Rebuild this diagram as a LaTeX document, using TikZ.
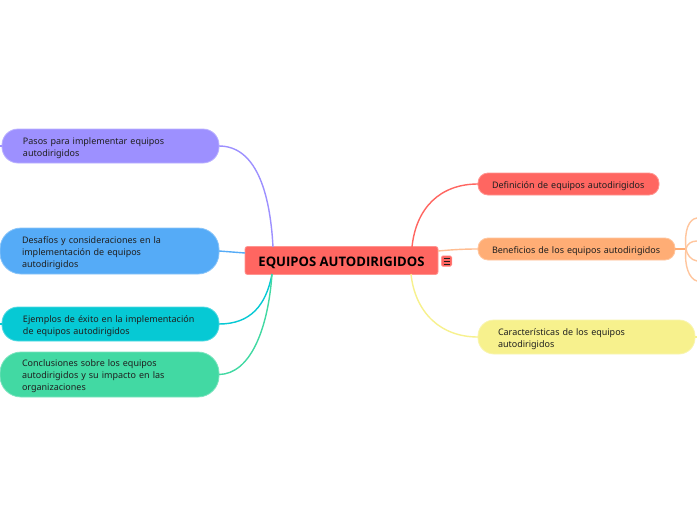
\documentclass[tikz,border=0pt]{standalone}
\usepackage{fontspec}
\setmainfont{Noto Sans}
\newfontfamily\headfont{Open Sans}
\definecolor{cred}{HTML}{FF6661}
\definecolor{corange}{HTML}{FFAD75}
\definecolor{cyellow}{HTML}{F7F18D}
\definecolor{cpurple}{HTML}{9D90FF}
\definecolor{cblue}{HTML}{55ABF7}
\definecolor{ccyan}{HTML}{06C9D4}
\definecolor{cgreen}{HTML}{42D9A3}
\definecolor{ctext}{HTML}{1F1F1F}
\tikzset{
  topic/.style n args={4}{fill=#1, draw=#1!70!white, line width=0.8pt, rounded corners=#2,
    minimum width=#3, minimum height=#4, inner xsep=0pt, inner ysep=0pt,
    text=ctext, anchor=center, outer sep=0pt},
  bodytext/.style={font=\fontsize{9pt}{12pt}\selectfont, align=left, text width=#1,
    execute at begin node={\rule{0pt}{11pt}}, execute at end node={\rule[-3pt]{0pt}{3pt}}},
  conn/.style={line width=1.4pt, draw=#1},
}
\begin{document}
\begin{tikzpicture}[x=1pt,y=-1pt]
\fill[white] (0,0) rectangle (697,520);
\useasboundingbox (0,0) rectangle (697,520);
% free ends of the connectors
\coordinate (cA) at (412,247);
\coordinate (cB) at (438,251);
\coordinate (cC) at (411,274);
\coordinate (cD) at (273,247);
\coordinate (cE) at (245,253);
\coordinate (cF) at (272,274);
\coordinate (fork) at (686,249);
\coordinate (e1) at (697,218);
\coordinate (e2) at (697,241);
\coordinate (e3) at (697,261);
\coordinate (e4) at (697,281);
\coordinate (sP) at (0,146);
\coordinate (sE) at (0,324);
\coordinate (sC) at (697,337);
% nodes
\node[topic={cred}{2.5pt}{193pt}{28pt}, font=\headfont\fontsize{13.1pt}{15pt}\selectfont\bfseries, text=black, text height=12pt, text depth=1pt] (central) at (341.5,260.5) {EQUIPOS AUTODIRIGIDOS};
\node[fill=cred, draw=cred!70!white, line width=0.5pt, rounded corners=1.5pt, minimum width=10.5pt, minimum height=10.5pt, inner sep=0pt] (icon) at (446.5,261) {};
\draw[ctext, line width=0.7pt] (443.5,258) -- (449.5,258) (443.5,261) -- (449.5,261) (443.5,264) -- (449.5,264);
\node[topic={cred}{10pt}{181pt}{22pt}, bodytext=153pt] (def) at (568.5,184) {Definición de equipos autodirigidos};
\node[topic={corange}{10pt}{197pt}{22pt}, bodytext=169pt] (ben) at (576.5,249) {Beneficios de los equipos autodirigidos};
\node[topic={cyellow}{16pt}{217pt}{34pt}, bodytext=177pt] (car) at (586.5,337) {Características de los equipos\\autodirigidos};
\node[topic={cpurple}{16pt}{217pt}{34pt}, bodytext=175pt] (pas) at (110.5,146) {Pasos para implementar equipos\\autodirigidos};
\node[topic={cblue}{21pt}{219pt}{46pt}, bodytext=175pt] (des) at (109.5,251) {Desafíos y consideraciones en la\\implementación de equipos\\autodirigidos};
\node[topic={ccyan}{16pt}{217pt}{34pt}, bodytext=175pt] (eje) at (110.5,324) {Ejemplos de éxito en la implementación\\de equipos autodirigidos};
\node[topic={cgreen}{21pt}{219pt}{45pt}, bodytext=175pt] (con) at (109.5,374.5) {Conclusiones sobre los equipos\\autodirigidos y su impacto en las\\organizaciones};
% connectors
\draw[conn=cred] (def.west) .. controls (440,184) and (416,208) .. (cA);
\draw[conn=corange!80!white] (ben.west) .. controls (460,249) and (450,250) .. (cB);
\draw[conn=cyellow] (car.west) .. controls (440,337) and (415,312) .. (cC);
\draw[conn=cpurple] (pas.east) .. controls (255,146) and (270,190) .. (cD);
\draw[conn=cblue] (des.east) -- (cE);
\draw[conn=ccyan] (eje.east) .. controls (250,324) and (266,306) .. (cF);
\draw[conn=cgreen] (con.east) .. controls (250,374) and (268,330) .. (cF);
\draw[conn=corange] (ben.east) -- (fork);
\draw[conn=corange!70!white] (fork) .. controls (684,230) and (689,219) .. (e1);
\draw[conn=corange!70!white] (fork) .. controls (687,244) and (691,241) .. (e2);
\draw[conn=corange!70!white] (fork) .. controls (687,255) and (691,260) .. (e3);
\draw[conn=corange!70!white] (fork) .. controls (684,265) and (689,279) .. (e4);
\draw[conn=cpurple] (pas.west) -- (sP);
\draw[conn=ccyan] (eje.west) -- (sE);
\draw[conn=cyellow] (car.east) -- (sC);
\end{tikzpicture}
\end{document}
